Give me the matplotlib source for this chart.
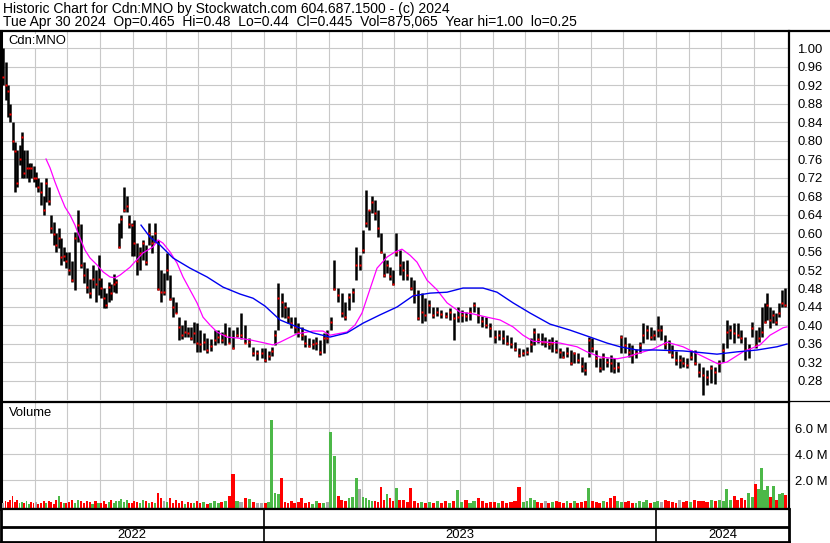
import numpy as np
import matplotlib
matplotlib.use("Agg")
import matplotlib.pyplot as plt
from matplotlib.lines import Line2D

# ---- data (month 0 = May 2022 ... month 23 = Apr 2024) ----
bars_per_month = [14, 13, 11, 13, 11, 11, 9, 8, 10, 9, 9, 11,
                  9, 8, 8, 8, 9, 9, 9, 9, 9, 8, 9, 11]

highs = [
    1.00, 0.97, 0.92, 0.88, 0.84, 0.797, 0.78, 0.79, 0.818, 0.78, 0.779, 0.751, 0.751, 0.745,
    0.732, 0.72, 0.71, 0.68, 0.719, 0.70, 0.639, 0.624, 0.60, 0.611, 0.589, 0.57, 0.559,
    0.559, 0.54, 0.602, 0.65, 0.62, 0.537, 0.524, 0.50, 0.531, 0.52, 0.553,
    0.503, 0.48, 0.47, 0.494, 0.49, 0.511, 0.50, 0.622, 0.639, 0.699, 0.68, 0.639, 0.622,
    0.628, 0.578, 0.57, 0.585, 0.574, 0.622, 0.596, 0.622, 0.585, 0.52, 0.514,
    0.557, 0.51, 0.462, 0.451, 0.418, 0.40, 0.412, 0.397, 0.397, 0.408, 0.405,
    0.39, 0.384, 0.373, 0.37, 0.39, 0.39, 0.385, 0.405, 0.397,
    0.39, 0.397, 0.427, 0.40, 0.373, 0.354, 0.347, 0.351,
    0.351, 0.345, 0.354, 0.39, 0.492, 0.47, 0.451, 0.44, 0.418, 0.418,
    0.405, 0.397, 0.379, 0.373, 0.37, 0.375, 0.369, 0.384, 0.39,
    0.418, 0.542, 0.481, 0.47, 0.451, 0.47, 0.481, 0.57, 0.552,
    0.606, 0.693, 0.65, 0.68, 0.671, 0.65, 0.60, 0.557, 0.542, 0.526, 0.52,
    0.60, 0.563, 0.54, 0.542, 0.505, 0.498, 0.477, 0.47, 0.46,
    0.455, 0.44, 0.44, 0.434, 0.43, 0.438, 0.427, 0.44,
    0.434, 0.43, 0.44, 0.451, 0.44, 0.42, 0.418, 0.405,
    0.39, 0.39, 0.39, 0.38, 0.375, 0.365, 0.351, 0.35,
    0.354, 0.373, 0.395, 0.384, 0.384, 0.375, 0.37, 0.375, 0.369,
    0.351, 0.345, 0.354, 0.347, 0.343, 0.341, 0.332, 0.32, 0.375,
    0.373, 0.347, 0.33, 0.341, 0.33, 0.336, 0.33, 0.32, 0.379,
    0.375, 0.362, 0.358, 0.35, 0.364, 0.405, 0.40, 0.397, 0.39,
    0.42, 0.40, 0.38, 0.369, 0.358, 0.345, 0.336, 0.332, 0.33,
    0.347, 0.347, 0.319, 0.31, 0.304, 0.315, 0.31, 0.325,
    0.362, 0.412, 0.40, 0.405, 0.405, 0.39, 0.375, 0.36, 0.408,
    0.39, 0.397, 0.44, 0.449, 0.47, 0.44, 0.434, 0.427, 0.449, 0.477, 0.48,
]
lows = [
    0.92, 0.888, 0.851, 0.84, 0.779, 0.689, 0.70, 0.747, 0.719, 0.72, 0.719, 0.71, 0.72, 0.71,
    0.70, 0.689, 0.66, 0.639, 0.667, 0.66, 0.60, 0.575, 0.559, 0.568, 0.531, 0.54, 0.524,
    0.51, 0.494, 0.477, 0.58, 0.524, 0.492, 0.47, 0.46, 0.48, 0.451, 0.466,
    0.46, 0.438, 0.438, 0.451, 0.455, 0.472, 0.47, 0.568, 0.589, 0.645, 0.645, 0.611, 0.55,
    0.55, 0.509, 0.52, 0.542, 0.531, 0.574, 0.557, 0.578, 0.477, 0.451, 0.466,
    0.498, 0.455, 0.418, 0.427, 0.369, 0.37, 0.375, 0.375, 0.369, 0.362, 0.343,
    0.343, 0.347, 0.341, 0.345, 0.358, 0.362, 0.362, 0.358, 0.362,
    0.35, 0.375, 0.37, 0.362, 0.354, 0.333, 0.325, 0.33,
    0.321, 0.325, 0.333, 0.358, 0.39, 0.418, 0.416, 0.405, 0.395, 0.384,
    0.375, 0.369, 0.354, 0.354, 0.35, 0.347, 0.336, 0.341, 0.362,
    0.39, 0.477, 0.451, 0.418, 0.412, 0.434, 0.451, 0.498, 0.52,
    0.557, 0.613, 0.606, 0.643, 0.628, 0.591, 0.557, 0.505, 0.514, 0.498, 0.488,
    0.55, 0.51, 0.498, 0.498, 0.477, 0.449, 0.412, 0.405, 0.41,
    0.427, 0.416, 0.42, 0.416, 0.416, 0.412, 0.369, 0.408,
    0.408, 0.41, 0.412, 0.429, 0.405, 0.397, 0.395, 0.375,
    0.362, 0.369, 0.36, 0.358, 0.351, 0.345, 0.332, 0.335,
    0.336, 0.343, 0.358, 0.362, 0.358, 0.354, 0.35, 0.343, 0.341,
    0.33, 0.33, 0.332, 0.315, 0.319, 0.319, 0.30, 0.293, 0.332,
    0.343, 0.31, 0.30, 0.304, 0.31, 0.299, 0.297, 0.30, 0.341,
    0.341, 0.332, 0.319, 0.33, 0.341, 0.362, 0.37, 0.369, 0.369,
    0.375, 0.369, 0.35, 0.341, 0.33, 0.315, 0.308, 0.31, 0.308,
    0.325, 0.315, 0.289, 0.25, 0.271, 0.276, 0.274, 0.299,
    0.321, 0.351, 0.37, 0.362, 0.373, 0.362, 0.325, 0.33, 0.375,
    0.351, 0.364, 0.375, 0.405, 0.412, 0.395, 0.405, 0.401, 0.418, 0.44, 0.44,
]
closes = [
    0.937, 0.92, 0.907, 0.857, 0.80, 0.777, 0.708, 0.76, 0.808, 0.73, 0.74, 0.741, 0.74, 0.72,
    0.72, 0.70, 0.689, 0.65, 0.708, 0.67, 0.611, 0.598, 0.575, 0.59, 0.548, 0.55, 0.54,
    0.52, 0.498, 0.589, 0.617, 0.531, 0.509, 0.483, 0.47, 0.501, 0.49, 0.50,
    0.48, 0.459, 0.445, 0.483, 0.47, 0.49, 0.495, 0.57, 0.63, 0.65, 0.658, 0.62, 0.617,
    0.578, 0.54, 0.557, 0.578, 0.537, 0.60, 0.578, 0.60, 0.479, 0.472, 0.472,
    0.52, 0.457, 0.44, 0.427, 0.397, 0.38, 0.386, 0.384, 0.373, 0.384, 0.362,
    0.36, 0.364, 0.347, 0.355, 0.369, 0.375, 0.369, 0.379, 0.362,
    0.352, 0.379, 0.379, 0.362, 0.364, 0.341, 0.341, 0.341,
    0.325, 0.335, 0.345, 0.38, 0.459, 0.45, 0.44, 0.418, 0.405, 0.397,
    0.386, 0.38, 0.362, 0.356, 0.36, 0.362, 0.343, 0.373, 0.373,
    0.408, 0.479, 0.466, 0.427, 0.418, 0.462, 0.472, 0.531, 0.531,
    0.563, 0.622, 0.65, 0.667, 0.643, 0.611, 0.559, 0.509, 0.531, 0.507, 0.49,
    0.56, 0.53, 0.52, 0.51, 0.48, 0.466, 0.416, 0.429, 0.423,
    0.444, 0.423, 0.43, 0.425, 0.42, 0.43, 0.416, 0.418,
    0.423, 0.42, 0.43, 0.444, 0.423, 0.41, 0.40, 0.395,
    0.375, 0.38, 0.373, 0.362, 0.36, 0.35, 0.336, 0.34,
    0.343, 0.36, 0.386, 0.37, 0.364, 0.364, 0.36, 0.362, 0.347,
    0.343, 0.332, 0.34, 0.319, 0.341, 0.325, 0.312, 0.304, 0.369,
    0.351, 0.33, 0.308, 0.332, 0.32, 0.319, 0.308, 0.31, 0.375,
    0.358, 0.343, 0.336, 0.34, 0.358, 0.379, 0.39, 0.375, 0.38,
    0.39, 0.39, 0.36, 0.345, 0.336, 0.325, 0.325, 0.319, 0.315,
    0.332, 0.319, 0.30, 0.293, 0.289, 0.308, 0.30, 0.319,
    0.347, 0.386, 0.39, 0.384, 0.379, 0.373, 0.347, 0.35, 0.395,
    0.358, 0.373, 0.386, 0.408, 0.444, 0.412, 0.423, 0.408, 0.427, 0.449, 0.445,
]
# volume in millions of shares
volumes = [
    0.25, 0.35, 0.3, 0.5, 0.8, 0.3, 0.45, 0.2, 0.3, 0.25, 0.4, 0.15, 0.3, 0.2,
    0.3, 0.15, 0.25, 0.4, 0.2, 0.35, 0.3, 0.15, 0.45, 0.8, 0.3, 0.25, 0.2,
    0.3, 0.45, 0.25, 0.5, 0.35, 0.2, 0.4, 0.3, 0.15, 0.35, 0.25,
    0.2, 0.35, 0.15, 0.3, 0.45, 0.2, 0.35, 0.4, 0.55, 0.3, 0.45, 0.25, 0.2,
    0.4, 0.3, 0.2, 0.45, 0.35, 0.25, 0.3, 0.2, 1.0, 0.6, 0.35,
    0.3, 0.65, 0.25, 0.45, 0.2, 0.35, 0.15, 0.3, 0.25, 0.2, 0.35,
    0.2, 0.3, 0.15, 0.25, 0.4, 0.2, 0.3, 0.35, 0.8,
    2.45, 0.4, 0.3, 0.65, 0.55, 0.3, 0.2, 0.25,
    0.2, 0.3, 6.6, 1.0, 0.95, 2.15, 0.3, 0.25, 0.4, 0.2,
    0.3, 0.6, 0.2, 0.3, 0.15, 0.35, 0.25, 0.2, 0.3,
    5.7, 3.85, 0.8, 0.5, 0.4, 0.6, 0.7, 2.15, 1.3,
    0.7, 0.6, 0.5, 0.4, 0.35, 0.3, 1.5, 0.45, 0.9, 0.6, 0.4,
    1.4, 0.5, 0.45, 0.3, 1.4, 0.35, 0.25, 0.3, 0.2,
    0.3, 0.25, 0.4, 0.2, 0.35, 0.25, 0.4, 1.2,
    0.3, 0.5, 0.25, 0.35, 0.6, 0.4, 0.2, 0.3,
    0.3, 0.25, 0.4, 0.2, 0.3, 0.35, 1.5, 0.3,
    0.4, 0.6, 0.5, 0.3, 0.25, 0.4, 0.2, 0.3, 0.35,
    0.3, 0.2, 0.35, 0.25, 0.4, 0.2, 0.3, 0.35, 1.4,
    0.4, 0.3, 0.25, 0.35, 0.3, 0.6, 0.8, 0.4, 0.3,
    0.3, 0.4, 0.25, 0.2, 0.35, 0.3, 0.45, 0.25, 0.3,
    0.35, 0.3, 0.5, 0.4, 0.3, 0.25, 0.45, 0.3, 0.35,
    0.3, 0.5, 0.35, 0.4, 0.3, 0.45, 0.35, 0.5,
    0.4, 1.3, 0.5, 0.8, 0.45, 0.6, 0.5, 1.0, 0.7,
    1.7, 1.3, 2.9, 1.2, 1.55, 0.7, 1.55, 0.5, 0.9, 1.0, 0.88,
]

# moving averages as drawn (time in months since May 1 2022, price)
ma_short_t = [1.346, 1.468, 1.621, 1.774, 1.927, 2.080, 2.232, 2.385, 2.538, 2.691,
              2.905, 3.089, 3.303, 3.456, 3.609, 3.914, 4.312, 4.618, 4.771, 4.924,
              5.138, 5.352, 5.535, 5.749, 5.963, 6.147, 6.361, 6.575, 6.881, 7.187,
              7.584, 8.043, 8.287, 8.502, 9.021, 9.511, 9.817, 10.031, 10.550, 10.795,
              11.009, 11.193, 11.468, 11.774, 12.018, 12.232, 12.477, 12.691, 12.997, 13.303,
              13.609, 14.006, 14.404, 14.832, 15.229, 15.627, 15.933, 16.239, 16.667, 17.064,
              17.584, 17.890, 18.287, 18.807, 19.113, 19.511, 19.908, 20.336, 20.826, 21.346,
              21.896, 22.171, 22.661, 23.180, 23.486, 23.884, 24.006]
ma_short = [0.760, 0.741, 0.710, 0.682, 0.656, 0.639, 0.617, 0.589, 0.563, 0.546,
            0.531, 0.516, 0.505, 0.503, 0.509, 0.526, 0.557, 0.570, 0.585, 0.578,
            0.559, 0.535, 0.505, 0.477, 0.449, 0.418, 0.401, 0.386, 0.375, 0.373,
            0.369, 0.362, 0.358, 0.364, 0.382, 0.388, 0.388, 0.379, 0.386, 0.401,
            0.427, 0.466, 0.524, 0.548, 0.559, 0.565, 0.552, 0.537, 0.498, 0.477,
            0.449, 0.429, 0.425, 0.418, 0.412, 0.397, 0.379, 0.366, 0.364, 0.362,
            0.354, 0.343, 0.332, 0.328, 0.332, 0.341, 0.349, 0.364, 0.354, 0.336,
            0.317, 0.321, 0.343, 0.358, 0.379, 0.395, 0.397]
ma_long_t = [4.251, 4.526, 4.832, 5.229, 5.749, 6.269, 6.758, 7.278, 7.676, 8.043,
             8.502, 9.021, 9.511, 10.031, 10.550, 11.040, 11.560, 12.080, 12.569, 13.089,
             13.609, 14.098, 14.709, 15.138, 15.627, 16.147, 16.758, 17.370, 17.982, 18.502,
             18.899, 19.419, 19.969, 20.826, 21.437, 21.865, 22.477, 23.089, 23.700, 24.006]
ma_long = [0.617, 0.591, 0.574, 0.546, 0.524, 0.505, 0.483, 0.468, 0.459, 0.442,
           0.412, 0.397, 0.384, 0.375, 0.384, 0.405, 0.423, 0.440, 0.464, 0.470,
           0.472, 0.481, 0.481, 0.472, 0.449, 0.427, 0.403, 0.390, 0.375, 0.362,
           0.354, 0.347, 0.347, 0.345, 0.341, 0.338, 0.343, 0.347, 0.354, 0.360]

price_ticks = [0.28, 0.32, 0.36, 0.40, 0.44, 0.48, 0.52, 0.56, 0.60, 0.64,
               0.68, 0.72, 0.76, 0.80, 0.84, 0.88, 0.92, 0.96, 1.00]
volume_ticks = [2.0, 4.0, 6.0]
years = ["2022", "2023", "2024"]
year_starts = [8, 20]   # Jan 2023, Jan 2024 in month units

header1 = "Historic Chart for Cdn:MNO by Stockwatch.com 604.687.1500 - (c) 2024"
header2 = ("Tue Apr 30 2024  Op=0.465  Hi=0.48  Lo=0.44  Cl=0.445  "
           "Vol=875,065  Year hi=1.00  lo=0.25")

# ---- layout helpers (pixel based) ----
W, H = 830, 543
plt.rcParams['font.family'] = ['Liberation Sans', 'DejaVu Sans']
FS = 9.4
GRID = '#c8c8c8'
XMIN, XMAX = -0.031, 24.067
VBOT = -0.23


def box(x0, y0, x1, y1):
    return [x0 / W, 1 - y1 / H, (x1 - x0) / W, (y1 - y0) / H]


def hline(y, x0=0, x1=W, lw=1.5):
    fig.add_artist(Line2D([x0 / W, x1 / W], [1 - y / H, 1 - y / H],
                          transform=fig.transFigure, color='black', lw=lw))


# bar positions: spread evenly inside each month
xs = np.concatenate([k + (np.arange(n) + 0.5) / n for k, n in enumerate(bars_per_month)])
widths = np.concatenate([np.full(n, 0.8 / n) for n in bars_per_month])
highs = np.array(highs)
lows = np.array(lows)
closes = np.array(closes)
volumes = np.array(volumes)

chg = np.diff(closes, prepend=closes[0])
vcol = np.where(chg > 0, '#4cb848', np.where(chg < 0, '#ff0000', '#a8a8a8'))

fig = plt.figure(figsize=(W / 100, H / 100), dpi=100)

# price panel
ax = fig.add_axes(box(1, 31, 789, 400))
ax.set_xlim(XMIN, XMAX)
ax.set_ylim(0.2389, 1.0368)
ax.set_xticks(range(1, 24))
ax.set_yticks(price_ticks)
ax.set_yticklabels([f"{v:.2f}" for v in price_ticks])
ax.yaxis.tick_right()
ax.tick_params(axis='both', length=0, labelsize=FS, pad=6)
ax.tick_params(axis='x', labelbottom=False)
ax.grid(True, color=GRID, lw=0.8)
ax.set_axisbelow(True)
ax.vlines(xs, lows, highs, color='black', lw=1.8, zorder=3)
ax.plot(xs, closes, 's', ms=1.7, color='red', mec='none', zorder=4)
ax.plot(ma_short_t, ma_short, color='#ff00ff', lw=0.9, zorder=5)
ax.plot(ma_long_t, ma_long, color='#0000f0', lw=1.0, zorder=5)
for s in ['top', 'bottom']:
    ax.spines[s].set_visible(False)
ax.spines['left'].set_linewidth(2.2)
ax.spines['right'].set_linewidth(1.6)
ax.text(7 / 787, 1 - 10 / 369, "Cdn:MNO", transform=ax.transAxes, fontsize=FS,
        va='center', ha='left', zorder=6,
        bbox=dict(facecolor='white', edgecolor='none', pad=0.6))

# volume panel
av = fig.add_axes(box(1, 402, 789, 509))
av.set_xlim(XMIN, XMAX)
av.set_ylim(VBOT, 8.0)
av.set_xticks(range(1, 24))
av.set_yticks(volume_ticks)
av.set_yticklabels([f"{v:.1f} M" for v in volume_ticks])
av.yaxis.tick_right()
av.tick_params(axis='both', length=0, labelsize=FS, pad=4)
av.tick_params(axis='x', labelbottom=False)
av.grid(True, color=GRID, lw=0.8)
av.set_axisbelow(True)
av.bar(xs, volumes - VBOT, width=widths, bottom=VBOT, color=vcol, zorder=3,
       linewidth=0)
av.spines['top'].set_linewidth(0.9)
av.spines['bottom'].set_linewidth(1.6)
av.spines['left'].set_linewidth(2.2)
av.spines['right'].set_linewidth(1.6)
av.text(8 / 787, 1 - 11 / 107, "Volume", transform=av.transAxes, fontsize=FS,
        va='center', ha='left')

# date band
ad = fig.add_axes(box(1, 509, 789, 542))
ad.set_xlim(XMIN, XMAX)
ad.set_ylim(0, 1)
ad.set_xticks([])
ad.set_yticks([])
for s in ad.spines.values():
    s.set_linewidth(2.0)
ad.spines['top'].set_linewidth(1.6)
ad.axhline(15 / 33, color='black', lw=2.0)
ad.vlines(year_starts, 0, 1, color='black', lw=1.2)
edges = [XMIN] + year_starts + [XMAX]
for i, label in enumerate(years):
    ad.text((edges[i] + edges[i + 1]) / 2, 7 / 33, label, ha='center', va='center',
            fontsize=FS)

# header
fig.text(3 / W, 1 - 13 / H, header1, fontsize=10.0, va='baseline', ha='left')
fig.text(3 / W, 1 - 26 / H, header2, fontsize=10.0, va='baseline', ha='left')
hline(30.5, lw=1.6)
hline(400.5, lw=0.9)

fig.savefig("out.png", dpi=100)
